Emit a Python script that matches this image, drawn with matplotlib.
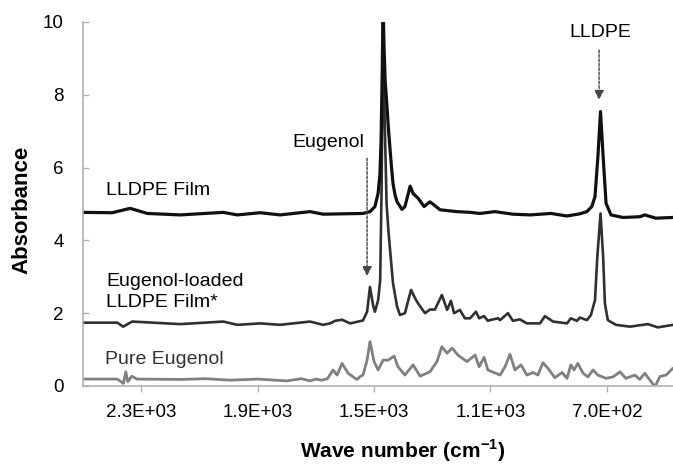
import numpy as np
import matplotlib.pyplot as plt
from matplotlib.ticker import FixedLocator, FuncFormatter

plt.rcParams['font.family'] = ['Liberation Sans', 'DejaVu Sans']
plt.rcParams['mathtext.fontset'] = 'custom'
plt.rcParams['mathtext.rm'] = 'Liberation Sans'
plt.rcParams['mathtext.bf'] = 'Liberation Sans:bold'

# LLDPE film spectrum (wave number, absorbance)
film_wn = [2499, 2400, 2338, 2279, 2166, 2018, 1970, 1891, 1823, 1720, 1675, 1538,
           1514, 1497, 1486, 1480, 1476, 1472, 1469, 1466, 1462, 1455, 1450, 1445,
           1440, 1435, 1428, 1421, 1404, 1394, 1376, 1366, 1349, 1328, 1308, 1273,
           1215, 1170, 1136, 1085, 1023, 964, 892, 837, 793, 769, 758, 752, 741,
           731, 722, 713, 703, 686, 645, 587, 570, 532, 473]
film_abs = [4.77, 4.76, 4.88, 4.74, 4.70, 4.77, 4.70, 4.76, 4.70, 4.79, 4.72, 4.74,
            4.79, 4.93, 5.30, 5.80, 6.70, 8.60, 10.5, 9.40, 8.40, 7.60, 7.00, 6.50,
            6.00, 5.57, 5.25, 5.06, 4.85, 4.93, 5.49, 5.29, 5.16, 4.93, 5.06, 4.84,
            4.79, 4.77, 4.74, 4.79, 4.72, 4.70, 4.74, 4.67, 4.73, 4.79, 4.88, 4.93, 5.20,
            6.30, 7.54, 6.30, 5.02, 4.70, 4.63, 4.65, 4.70, 4.61, 4.63]

# Eugenol-loaded LLDPE film spectrum
loaded_wn = [2499, 2382, 2362, 2331, 2166, 2018, 1970, 1891, 1823, 1720, 1675, 1651,
             1634, 1610, 1582, 1538, 1524, 1514, 1503, 1497, 1486, 1479, 1474, 1469,
             1464, 1457, 1450, 1445, 1435, 1421, 1411, 1394, 1373, 1359, 1349, 1325,
             1308, 1291, 1267, 1249, 1236, 1225, 1205, 1188, 1170, 1150, 1139, 1122,
             1109, 1102, 1074, 1067, 1040, 1023, 999, 975, 930, 913, 885, 837, 824,
             803, 793, 769, 755, 741, 733, 722, 713, 707, 697, 669, 621, 559, 525, 473]
loaded_abs = [1.74, 1.74, 1.63, 1.77, 1.70, 1.77, 1.68, 1.72, 1.68, 1.77, 1.68, 1.72,
              1.79, 1.82, 1.72, 1.80, 2.04, 2.72, 2.20, 2.04, 2.36, 2.90, 5.50, 10.3,
              7.50, 5.00, 4.20, 3.74, 2.83, 2.18, 1.95, 2.00, 2.64, 2.41, 2.27, 2.00,
              2.10, 2.10, 2.50, 2.09, 2.34, 2.00, 2.09, 1.86, 1.86, 2.04, 1.86, 1.92,
              1.79, 1.81, 1.86, 1.81, 2.00, 1.79, 1.83, 1.72, 1.72, 1.92, 1.77, 1.72, 1.86,
              1.79, 1.88, 1.81, 1.95, 2.36, 3.55, 4.74, 3.55, 2.27, 1.81, 1.68, 1.63, 1.70,
              1.61, 1.68]

# pure eugenol spectrum
pure_wn = [2499, 2382, 2361, 2353, 2346, 2332, 2315, 2166, 2080, 1994, 1900, 1800,
           1750, 1720, 1700, 1680, 1660, 1641, 1627, 1610, 1589, 1565, 1558, 1548,
           1538, 1524, 1514, 1500, 1486, 1469, 1452, 1431, 1418, 1394, 1366, 1342,
           1308, 1284, 1267, 1249, 1232, 1212, 1181, 1153, 1139, 1122, 1109, 1067,
           1050, 1033, 1016, 995, 975, 954, 937, 920, 903, 879, 854, 837, 824, 813,
           800, 782, 765, 748, 731, 703, 679, 655, 635, 604, 587, 570, 552, 535, 518,
           497, 473]
pure_abs = [0.19, 0.19, 0.07, 0.39, 0.12, 0.27, 0.19, 0.18, 0.20, 0.16, 0.19, 0.14,
            0.20, 0.14, 0.19, 0.16, 0.20, 0.44, 0.30, 0.62, 0.35, 0.21, 0.18, 0.26,
            0.30, 0.71, 1.22, 0.67, 0.44, 0.71, 0.71, 0.82, 0.53, 0.30, 0.58, 0.27,
            0.39, 0.67, 1.08, 0.90, 1.04, 0.85, 0.67, 0.85, 0.53, 0.79, 0.44, 0.30,
            0.53, 0.87, 0.44, 0.58, 0.30, 0.37, 0.30, 0.64, 0.49, 0.23, 0.37, 0.21, 0.58, 0.44,
            0.62, 0.35, 0.25, 0.44, 0.30, 0.21, 0.25, 0.39, 0.21, 0.30, 0.18, 0.35, 0.16, -0.02, 0.26,
            0.30, 0.49]

xticks = [2300, 1900, 1500, 1100, 700]

fig = plt.figure(figsize=(6.73, 4.66), dpi=100)
ax = fig.add_axes([0.1233, 0.1717, 0.8767, 0.7811])

line_kw = dict(solid_joinstyle='round', solid_capstyle='round')
ax.plot(pure_wn, pure_abs, color='#808080', lw=2.0, **line_kw)
ax.plot(loaded_wn, loaded_abs, color='#303030', lw=1.9, **line_kw)
ax.plot(film_wn, film_abs, color='#111111', lw=2.3, **line_kw)

ax.set_xlim(2500, 473)
ax.set_ylim(0, 10)
ax.set_yticks([0, 2, 4, 6, 8, 10])
ax.xaxis.set_major_locator(FixedLocator(xticks))
ax.xaxis.set_major_formatter(FuncFormatter(lambda v, p: f'{v:.1E}'))

for s in ['top', 'right']:
    ax.spines[s].set_visible(False)
for s in ['left', 'bottom']:
    ax.spines[s].set_color('#b0b0b0')
    ax.spines[s].set_linewidth(1.2)
ax.tick_params(axis='x', direction='out', length=4, width=1, color='#b0b0b0',
               labelsize=13.5, pad=9)
ax.tick_params(axis='y', direction='in', length=4, width=1, color='#b0b0b0',
               labelsize=13.5, pad=14)

ax.set_xlabel(r'Wave number (cm$^{\mathbf{-1}}$)', fontsize=15, fontweight='bold')
ax.set_ylabel('Absorbance', fontsize=16, fontweight='bold')
ax.xaxis.set_label_coords(0.542, -0.140)
ax.yaxis.set_label_coords(-0.086, 0.4835)

ax.text(2420, 5.38, 'LLDPE Film', fontsize=14, va='center', ha='left')
ax.text(2420, 2.86, 'Eugenol-loaded', fontsize=14, va='center', ha='left')
ax.text(2420, 2.28, 'LLDPE Film*', fontsize=14, va='center', ha='left')
ax.text(2424, 0.74, 'Pure Eugenol', fontsize=14, va='center', ha='left', color='#333333')
ax.text(1658, 6.68, 'Eugenol', fontsize=14, va='center', ha='center')
ax.text(724, 9.70, 'LLDPE', fontsize=14, va='center', ha='center')

arrow = dict(arrowstyle='-|>', linestyle=(0, (2, 1.2)), color='#444444', lw=1.0,
             mutation_scale=14, shrinkA=0, shrinkB=0)
ax.annotate('', xy=(1524, 3.02), xytext=(1524, 6.26), arrowprops=arrow)
ax.annotate('', xy=(727, 7.86), xytext=(727, 9.23), arrowprops=arrow)

fig.savefig('out.png', dpi=100)
